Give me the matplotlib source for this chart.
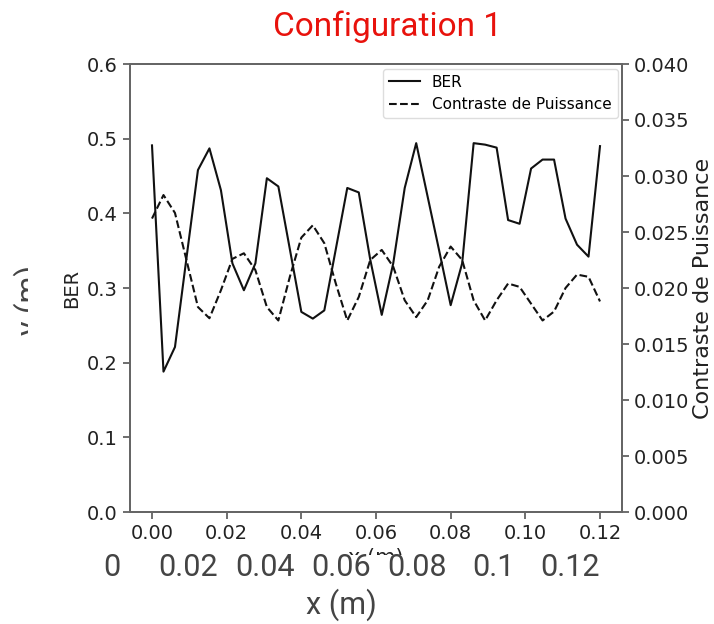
import numpy as np
import matplotlib
matplotlib.use('Agg')
import matplotlib.pyplot as plt
from matplotlib.transforms import Bbox, TransformedBbox

# sampling grid along x and the two curves
x_m = np.linspace(0.0, 0.12, 40)
ber = [0.491, 0.188, 0.221, 0.340, 0.458, 0.487, 0.431, 0.333, 0.297, 0.333,
       0.447, 0.436, 0.352, 0.268, 0.259, 0.270, 0.352, 0.434, 0.428, 0.338,
       0.264, 0.333, 0.434, 0.494, 0.422, 0.350, 0.277, 0.333, 0.494, 0.492,
       0.488, 0.391, 0.386, 0.460, 0.472, 0.472, 0.393, 0.358, 0.342, 0.490]
contraste = [0.0262, 0.0283, 0.0267, 0.0225, 0.0183, 0.0173, 0.0198, 0.0226, 0.0231, 0.0216,
             0.0183, 0.0171, 0.0210, 0.0245, 0.0256, 0.0240, 0.0204, 0.0171, 0.0192, 0.0225,
             0.0234, 0.0219, 0.0189, 0.0174, 0.0189, 0.0219, 0.0237, 0.0225, 0.0189, 0.0171,
             0.0189, 0.0204, 0.0201, 0.0186, 0.0171, 0.0179, 0.0200, 0.0212, 0.0210, 0.0188]

ber_ticks = [0.0, 0.1, 0.2, 0.3, 0.4, 0.5, 0.6]
cp_ticks = [0.000, 0.005, 0.010, 0.015, 0.020, 0.025, 0.030, 0.035, 0.040]
x_ticks = [0.00, 0.02, 0.04, 0.06, 0.08, 0.10, 0.12]

# tick labels of the slide underneath
back_ticks = [0.0, 0.02, 0.04, 0.06, 0.08, 0.10, 0.12]
back_labels = ['0', '0.02', '0.04', '0.06', '0.08', '0.1', '0.12']

W, H = 714, 624
fig = plt.figure(figsize=(W / 100.0, H / 100.0), dpi=100)
fig.patch.set_facecolor('white')

def box(x0, y0, x1, y1):
    # pixel rectangle (y from the top) -> display bbox
    return TransformedBbox(Bbox([[x0 / W, 1 - y1 / H], [x1 / W, 1 - y0 / H]]), fig.transFigure)

# background slide: big x axis labels and a half hidden y label
bg = fig.add_axes([0, 0, 1, 1], zorder=-1)
bg.axis('off')
bg.set_xlim(-112.0 / 458 * 0.12, (W - 112.0) / 458 * 0.12)
bg.set_ylim(H, 0)
for v, lab in zip(back_ticks, back_labels):
    bg.text(v, 568, lab, ha='center', va='center', fontsize=22, family='Roboto', color='#444444')
bg.text(0.06, 605, 'x (m)', ha='center', va='center', fontsize=22, family='Roboto', color='#444444')
ylab = bg.text(-0.0215, 300, 'y (m)', ha='center', va='center', rotation=90,
               fontsize=22, family='Roboto', color='#444444', clip_on=True)
ylab.set_clip_box(box(0, 0, 28, H))

fig.text(388 / W, 1 - 27.0 / H, 'Configuration 1', ha='center', va='center',
         fontsize=24, family='Roboto', color='#e8120c')

ax = fig.add_axes([129.6 / W, (H - 512.0) / H, 492.8 / W, 448.0 / H])
h1 = ax.plot(x_m, ber, color='#111111', lw=1.5, label='BER')
ax.set_ylim(0, 0.6)
ax.set_yticks(ber_ticks)
ax.set_yticklabels(['%.1f' % t for t in ber_ticks])
ax.set_xticks(x_ticks)
ax.set_xticklabels(['%.2f' % t for t in x_ticks])
ax.set_ylabel('BER', fontsize=14, color='#222222')
ax.set_xlabel('x (m)', fontsize=15, color='#222222')
ax.xaxis.label.set_clip_box(box(0, 0, W, 555))

ax2 = ax.twinx()
h2 = ax2.plot(x_m, contraste, color='#111111', lw=1.5, ls='--', label='Contraste de Puissance')
ax2.set_ylim(0, 0.04)
ax2.set_yticks(cp_ticks)
ax2.set_yticklabels(['%.3f' % t for t in cp_ticks])
ax2.set_ylabel('Contraste de Puissance', fontsize=16, color='#222222', labelpad=2)

for a in (ax, ax2):
    a.tick_params(labelsize=14, labelcolor='#222222', color='#555555', width=1.2, length=5)
    for s in a.spines.values():
        s.set_color('#666666')
        s.set_linewidth(1.4)

ax2.legend(h1 + h2, [h.get_label() for h in h1 + h2], loc='upper right',
           fontsize=11, borderaxespad=0.3, framealpha=1.0, edgecolor='#dddddd')

fig.savefig('out.png', dpi=100)
